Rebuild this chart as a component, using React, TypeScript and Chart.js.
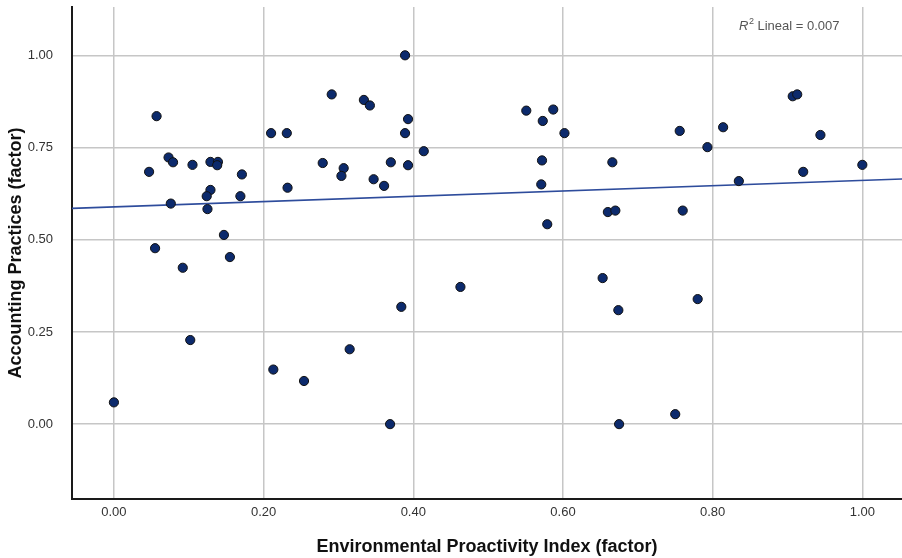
import React, { useEffect, useRef } from "react";
import { Chart, registerables } from "chart.js";

Chart.register(...registerables);

// Environmental Proactivity Index (factor)
const xValues: number[] = [
  0.057, 0.073, 0.079, 0.047, 0.105, 0.129, 0.139, 0.138, 0.171, 0.129,
  0.124, 0.169, 0.076, 0.125, 0.147, 0.055, 0.155, 0.092, 0.21, 0.231,
  0.232, 0.389, 0.291, 0.334, 0.342, 0.393, 0.389, 0.414, 0.279, 0.307,
  0.304, 0.37, 0.393, 0.347, 0.361, 0.551, 0.587, 0.573, 0.602, 0.572,
  0.571, 0.579, 0.666, 0.66, 0.67, 0.756, 0.76, 0.814, 0.793, 0.835,
  0.907, 0.913, 0.944, 0.921, 1.0, 0.0, 0.102, 0.213, 0.254, 0.315,
  0.384, 0.369, 0.463, 0.653, 0.674, 0.78, 0.75, 0.675,
];
// Accounting Practices (factor)
const yValues: number[] = [
  0.835, 0.723, 0.71, 0.684, 0.703, 0.711, 0.711, 0.702, 0.677, 0.635,
  0.618, 0.618, 0.598, 0.583, 0.513, 0.477, 0.453, 0.424, 0.789, 0.789,
  0.641, 1.0, 0.894, 0.879, 0.864, 0.827, 0.789, 0.74, 0.708, 0.694,
  0.673, 0.71, 0.702, 0.664, 0.646, 0.85, 0.853, 0.822, 0.789, 0.715,
  0.65, 0.542, 0.71, 0.575, 0.579, 0.795, 0.579, 0.805, 0.751, 0.659,
  0.889, 0.894, 0.784, 0.684, 0.703, 0.059, 0.228, 0.148, 0.117, 0.203,
  0.318, 0.0, 0.372, 0.396, 0.309, 0.339, 0.027, 0.0,
];

const xTickValues: number[] = [0, 0.2, 0.4, 0.6, 0.8, 1.0];
const yTickValues: number[] = [0, 0.25, 0.5, 0.75, 1.0];

const xRange: number[] = [-0.056, 1.053];
const yRange: number[] = [-0.203, 1.131];

// Linear fit line (R² Lineal = 0.007)
const fitIntercept = 0.589;
const fitSlope = 0.0717;
const r2Label = "0.007";

const FONT = "'Liberation Sans', Arial, sans-serif";

export default function App() {
  const canvasRef = useRef<HTMLCanvasElement | null>(null);

  useEffect(() => {
    const canvas = canvasRef.current;
    if (!canvas) return;

    const points = xValues.map((x, i) => ({ x, y: yValues[i] }));
    const fitLine = [
      { x: xRange[0], y: fitIntercept + fitSlope * xRange[0] },
      { x: xRange[1], y: fitIntercept + fitSlope * xRange[1] },
    ];

    const r2Plugin = {
      id: "r2Label",
      afterDraw(chart: any) {
        const ctx = chart.ctx;
        const area = chart.chartArea;
        ctx.save();
        ctx.fillStyle = "#555555";
        ctx.textBaseline = "alphabetic";
        const baseY = area.top + 23;
        let x = area.right - 163;
        ctx.font = `italic 13px ${FONT}`;
        ctx.fillText("R", x, baseY);
        x += ctx.measureText("R").width;
        ctx.font = `9px ${FONT}`;
        ctx.fillText("2", x + 0.5, baseY - 6);
        x += ctx.measureText("2").width + 0.5;
        ctx.font = `13px ${FONT}`;
        ctx.fillText(" Lineal = " + r2Label, x, baseY);
        ctx.restore();
      },
    };

    const chart = new Chart(canvas, {
      type: "scatter",
      data: {
        datasets: [
          {
            type: "scatter",
            label: "Accounting Practices",
            data: points,
            backgroundColor: "#0c2a6c",
            borderColor: "#111111",
            borderWidth: 1,
            pointRadius: 4.6,
            order: 0,
          } as any,
          {
            type: "line",
            label: "Fit",
            data: fitLine,
            borderColor: "#2e4c9c",
            borderWidth: 1.6,
            pointRadius: 0,
            fill: false,
            order: 1,
          } as any,
        ],
      },
      plugins: [r2Plugin],
      options: {
        responsive: false,
        animation: false,
        layout: { autoPadding: false, padding: { top: 7, right: 0, left: 0, bottom: 0 } },
        plugins: {
          legend: { display: false },
          tooltip: { enabled: false },
        },
        scales: {
          x: {
            type: "linear",
            min: xRange[0],
            max: xRange[1],
            afterBuildTicks: (scale: any) => {
              scale.ticks = xTickValues.map((v) => ({ value: v }));
            },
            afterFit: (scale: any) => {
              scale.height = 59;
              scale.paddingLeft = 0;
              scale.paddingRight = 0;
              scale.paddingTop = 0;
              scale.paddingBottom = 0;
            },
            ticks: {
              callback: (v: any) => Number(v).toFixed(2),
              font: { family: FONT, size: 13 },
              color: "#333333",
              padding: 6,
              maxRotation: 0,
            },
            grid: {
              color: "#c6c6c6",
              lineWidth: 1.5,
              drawTicks: false,
            },
            border: { color: "#1a1a1a", width: 2 },
            title: {
              display: true,
              text: "Environmental Proactivity Index (factor)",
              font: { family: FONT, size: 18, weight: "bold" },
              color: "#111111",
              padding: { top: 0, bottom: 0 },
            },
          },
          y: {
            type: "linear",
            min: yRange[0],
            max: yRange[1],
            afterBuildTicks: (scale: any) => {
              scale.ticks = yTickValues.map((v) => ({ value: v }));
            },
            afterFit: (scale: any) => {
              scale.width = 72;
              scale.paddingLeft = 0;
              scale.paddingRight = 0;
              scale.paddingTop = 0;
              scale.paddingBottom = 0;
            },
            ticks: {
              callback: (v: any) => Number(v).toFixed(2),
              font: { family: FONT, size: 13 },
              color: "#333333",
              padding: 19,
            },
            grid: {
              color: "#c6c6c6",
              lineWidth: 1.5,
              drawTicks: false,
            },
            border: { color: "#1a1a1a", width: 2 },
            title: {
              display: true,
              text: "Accounting Practices (factor)",
              font: { family: FONT, size: 18, weight: "bold" },
              color: "#111111",
              padding: { top: 5, bottom: 0 },
            },
          },
        },
      } as any,
    });

    return () => {
      chart.destroy();
    };
  }, []);

  return (
    <div style={{ position: "absolute", left: 0, top: 0, width: 902, height: 558, background: "#ffffff" }}>
      <canvas ref={canvasRef} width={902} height={558} style={{ display: "block" }} />
    </div>
  );
}
